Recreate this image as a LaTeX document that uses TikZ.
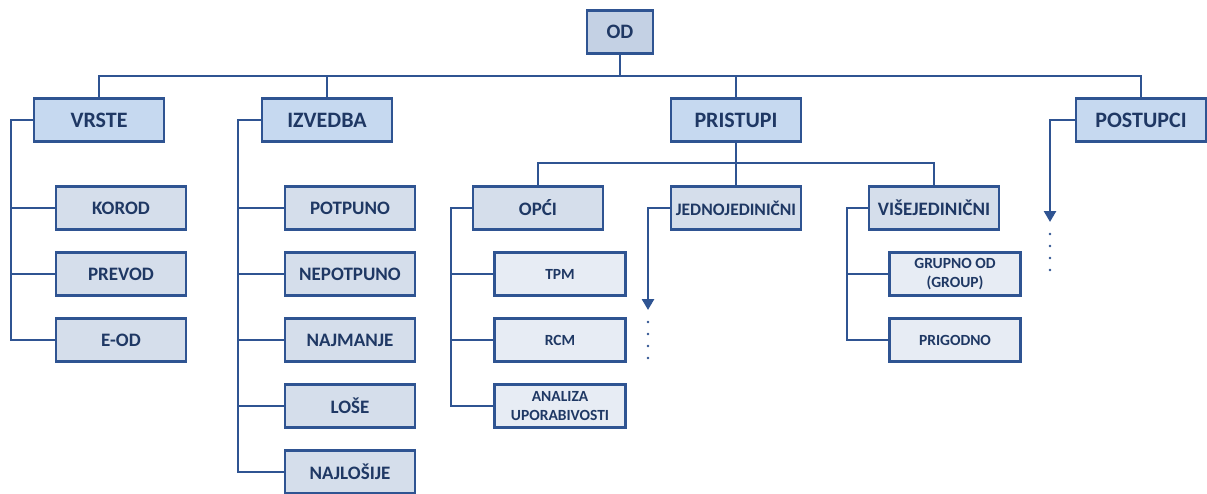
\documentclass[tikz,border=0pt]{standalone}
\usepackage{fontspec}
\setmainfont{Carlito}
\usetikzlibrary{arrows.meta}

\definecolor{odline}{RGB}{47,84,146}
\definecolor{odtext}{RGB}{31,56,100}
\definecolor{odtop}{RGB}{196,209,228}
\definecolor{odone}{RGB}{198,217,240}
\definecolor{odtwo}{RGB}{213,222,235}
\definecolor{odthree}{RGB}{231,236,244}

\begin{document}
\begin{tikzpicture}[x=1pt, y=-1pt,
    box/.style = {draw=odline, line width=2.6pt, text=odtext, inner sep=0pt,
                  minimum height=43pt, align=center, font=\bfseries},
    topbox/.style = {box, fill=odtop, minimum width=66pt, font=\bfseries\fontsize{20.5}{24}\selectfont},
    onebox/.style = {box, fill=odone, minimum width=130pt, font=\bfseries\fontsize{22}{26}\selectfont},
    twobox/.style = {box, fill=odtwo, minimum width=130pt, font=\bfseries\fontsize{19}{22}\selectfont},
    threebox/.style = {box, fill=odthree, minimum width=131pt, font=\bfseries\fontsize{15.5}{18.5}\selectfont},
    link/.style = {draw=odline, line width=2.6pt},
    arr/.style = {link, -{Triangle[length=11pt,width=12pt]}}]
%% fix the page to the size of the original picture
    \useasboundingbox (0,0) rectangle (1207,493);
%% root and first level
    \node[topbox] (OD) at (620,32) {OD};
    \node[onebox] (VRSTE) at (99,120) {VRSTE};
    \node[onebox] (IZVEDBA) at (327,120) {IZVEDBA};
    \node[onebox] (PRISTUPI) at (736,120) {PRISTUPI};
    \node[onebox] (POSTUPCI) at (1141,120) {POSTUPCI};
%% children of VRSTE
    \node[twobox] (KOROD) at (121,208) {KOROD};
    \node[twobox] (PREVOD) at (121,274) {PREVOD};
    \node[twobox] (EOD) at (121,340) {E-OD};
%% children of IZVEDBA
    \node[twobox] (POTPUNO) at (350,208) {POTPUNO};
    \node[twobox] (NEPOTPUNO) at (350,274) {NEPOTPUNO};
    \node[twobox] (NAJMANJE) at (350,340) {NAJMANJE};
    \node[twobox] (LOSE) at (350,406) {LOŠE};
    \node[twobox] (NAJLOSIJE) at (350,472) {NAJLOŠIJE};
%% children of PRISTUPI
    \node[twobox] (OPCI) at (538,208) {OPĆI};
    \node[twobox, font=\bfseries\fontsize{17.5}{21}\selectfont] (JEDNO) at (736,208) {JEDNOJEDINIČNI};
    \node[twobox] (VISE) at (934,208) {VIŠEJEDINIČNI};
%% third level
    \node[threebox] (TPM) at (560,274) {TPM};
    \node[threebox] (RCM) at (560,340) {RCM};
    \node[threebox] (ANALIZA) at (560,406) {ANALIZA\\UPORABIVOSTI};
    \node[threebox] (GRUPNO) at (955,274) {GRUPNO OD\\(GROUP)};
    \node[threebox] (PRIGODNO) at (955,340) {PRIGODNO};
%% helper points for the buses and the open ends
    \coordinate (bus) at (620,76);
    \coordinate (pbus) at (736,163);
    \coordinate (vl) at (11,0);
    \coordinate (il) at (238,0);
    \coordinate (ol) at (451,0);
    \coordinate (wl) at (847,0);
    \coordinate (jend) at (648,310);
    \coordinate (pend) at (1050,222);
%% top bus
    \draw[link] (OD.south) -- (bus);
    \draw[link] (VRSTE.north) |- (bus) -| (POSTUPCI.north);
    \draw[link] (IZVEDBA.north) -- (IZVEDBA.north |- bus);
    \draw[link] (PRISTUPI.north) -- (PRISTUPI.north |- bus);
%% VRSTE
    \draw[link] (VRSTE.west) -| (vl |- EOD.west) -- (EOD.west);
    \draw[link] (KOROD.west) -- (KOROD.west -| vl);
    \draw[link] (PREVOD.west) -- (PREVOD.west -| vl);
%% IZVEDBA
    \draw[link] (IZVEDBA.west) -| (il |- NAJLOSIJE.west) -- (NAJLOSIJE.west);
    \draw[link] (POTPUNO.west) -- (POTPUNO.west -| il);
    \draw[link] (NEPOTPUNO.west) -- (NEPOTPUNO.west -| il);
    \draw[link] (NAJMANJE.west) -- (NAJMANJE.west -| il);
    \draw[link] (LOSE.west) -- (LOSE.west -| il);
%% PRISTUPI
    \draw[link] (PRISTUPI.south) -- (pbus);
    \draw[link] (OPCI.north) |- (pbus) -| (VISE.north);
    \draw[link] (JEDNO.north) -- (pbus);
%% OPCI
    \draw[link] (OPCI.west) -| (ol |- ANALIZA.west) -- (ANALIZA.west);
    \draw[link] (TPM.west) -- (TPM.west -| ol);
    \draw[link] (RCM.west) -- (RCM.west -| ol);
%% VISEJEDINICNI
    \draw[link] (VISE.west) -| (wl |- PRIGODNO.west) -- (PRIGODNO.west);
    \draw[link] (GRUPNO.west) -- (GRUPNO.west -| wl);
%% open branches with dots
    \draw[arr] (JEDNO.west) -| (jend);
    \draw[arr] (POSTUPCI.west) -| (pend);
    \foreach \d in {12,24,36,48} {
        \fill[odline] ([yshift=-\d pt]jend) circle (1.3pt);
        \fill[odline] ([yshift=-\d pt]pend) circle (1.3pt);
    }
\end{tikzpicture}
\end{document}
